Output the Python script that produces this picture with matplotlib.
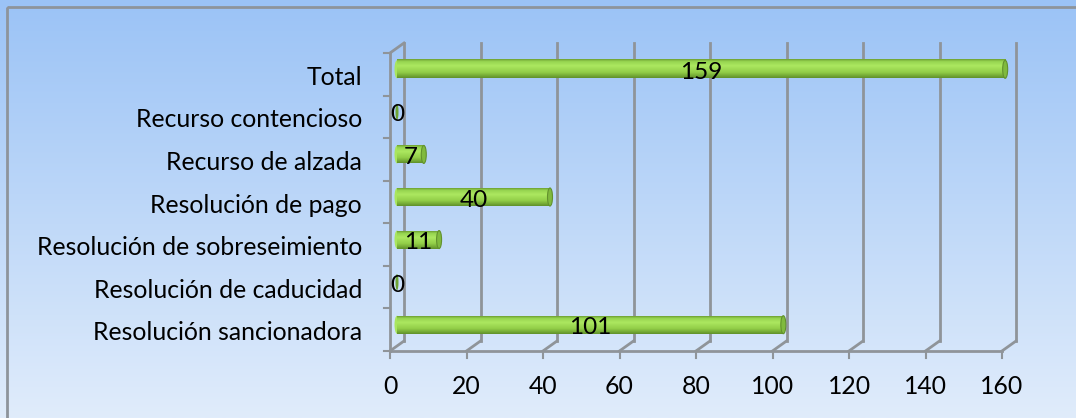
import numpy as np
import matplotlib.pyplot as plt
from matplotlib.patches import Ellipse, Rectangle
from matplotlib.transforms import ScaledTranslation

plt.rcParams['font.family'] = ['Lato', 'DejaVu Sans']

categories = ['Resolución sancionadora', 'Resolución de caducidad',
              'Resolución de sobreseimiento', 'Resolución de pago',
              'Recurso de alzada', 'Recurso contencioso', 'Total']
values = [101, 0, 11, 40, 7, 0, 159]
xticks = [0, 20, 40, 60, 80, 100, 120, 140, 160]

W, H = 1076, 418
fig = plt.figure(figsize=(W / 100, H / 100), dpi=100)

# gradient background + frame
bg = fig.add_axes([0, 0, 1, 1], zorder=0)
top = np.array([155, 195, 246]) / 255
bot = np.array([224, 236, 251]) / 255
t = np.linspace(0, 1, 256)[:, None]
grad = (top * (1 - t) + bot * t)[:, None, :]
bg.imshow(grad, aspect='auto', extent=[0, W, H, 0])
bg.add_patch(Rectangle((6.5, 6.5), W, H, fill=False, edgecolor='#8e949b', lw=2))
bg.set_xlim(0, W)
bg.set_ylim(H, 0)
bg.axis('off')

# front plane of the 3D chart, in pixels
x0, x1 = 390, 1002
yb, yt = 351, 53
ax = fig.add_axes([x0 / W, (H - yb) / H, (x1 - x0) / W, (yb - yt) / H], zorder=1)
ax.set_xlim(0, 160)
ax.set_ylim(-0.5, len(categories) - 0.5)
ax.axis('off')
ax.patch.set_alpha(0)

px_x = 160 / (x1 - x0)            # data units per pixel, x
px_y = len(categories) / (yb - yt)  # data units per pixel, y

dx, dy = 14, 10  # depth offset in px
back = ax.transData + ScaledTranslation(dx / 100, dy / 100, fig.dpi_scale_trans)
half = ax.transData + ScaledTranslation(dx / 200, dy / 200, fig.dpi_scale_trans)
half_x = ax.transData + ScaledTranslation(dx / 200, 0, fig.dpi_scale_trans)
gc = '#8f9499'
ymin, ymax = -0.5, len(categories) - 0.5

# back wall gridlines and floor diagonals
for xv in xticks:
    ax.plot([xv, xv], [ymin, ymax], color=gc, lw=2, transform=back, clip_on=False)
    ax.plot([xv, xv + px_x * dx], [ymin, ymin + dy * px_y], color=gc, lw=2, clip_on=False)
    ax.plot([xv, xv], [ymin, ymin - 7 * px_y], color=gc, lw=1.5, clip_on=False)
# front axes
ax.plot([0, 160], [ymin, ymin], color=gc, lw=2, clip_on=False)
ax.plot([0, 0], [ymin, ymax], color=gc, lw=2, clip_on=False)
ax.plot([0, px_x * dx], [ymax, ymax + dy * px_y], color=gc, lw=2, clip_on=False)
for k in range(len(categories) + 1):
    yv = k - 0.5
    ax.plot([0, -6 * px_x], [yv, yv], color=gc, lw=1.5, clip_on=False)

# cylinder bars
bh = 18 * px_y
g = np.linspace(0, 1, 64)
stops = [0.0, 0.12, 0.35, 0.7, 1.0]
cols = np.array([[110, 160, 50], [150, 212, 80], [172, 232, 96],
                 [146, 206, 72], [96, 145, 42]]) / 255
cyl = np.stack([np.interp(g, stops, cols[:, c]) for c in range(3)], axis=-1)[:, None, :]
cap_w = 5 * px_x
for i, v in enumerate(values):
    if v > 0:
        ax.imshow(cyl, aspect='auto', origin='upper',
                  extent=[0, v, i - bh / 2, i + bh / 2],
                  transform=half, zorder=3, clip_on=False)
        ax.add_patch(Ellipse((0, i), cap_w, bh, facecolor=cyl[20, 0], edgecolor='none',
                             transform=half, zorder=2, clip_on=False))
        ax.add_patch(Ellipse((v, i), cap_w, bh, facecolor='#80ba3e', edgecolor='#62912d',
                             lw=0.8, transform=half, zorder=4, clip_on=False))
    else:
        ax.add_patch(Ellipse((v, i), 3 * px_x, bh * 0.9, facecolor='#6fa535', edgecolor='none',
                             transform=half, zorder=4, clip_on=False))
    ax.text(v / 2, i + 2 * px_y, str(v), ha='center', va='center', fontsize=17.5,
            color='black', transform=half_x, zorder=5)

for i, c in enumerate(categories):
    ax.text(-28 * px_x, i - 3 * px_y, c, ha='right', va='center', fontsize=17.8,
            clip_on=False)
for xv in xticks:
    ax.text(xv, ymin - 36 * px_y, str(xv), ha='center', va='center', fontsize=17.8,
            clip_on=False)

fig.savefig('out.png', dpi=100)
